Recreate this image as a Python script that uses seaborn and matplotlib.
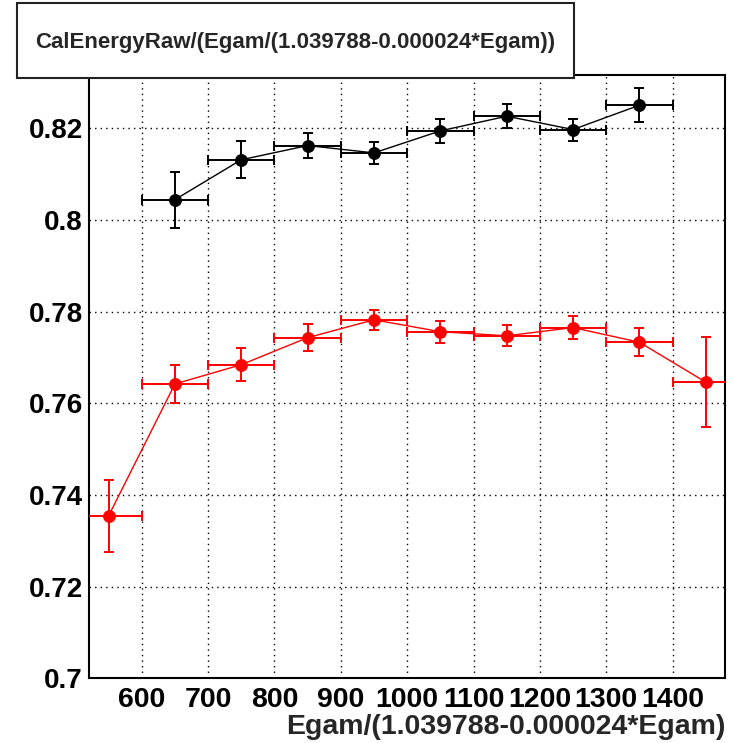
import matplotlib
matplotlib.use("Agg")
import matplotlib.pyplot as plt
from matplotlib.patches import Rectangle
from matplotlib.ticker import MultipleLocator, FixedLocator
import seaborn as sns
import pandas as pd
import numpy as np

# ---- data ----
egam_black = [650, 750, 850, 950, 1050, 1150, 1250, 1350]
ratio_black = [0.8044, 0.8131, 0.8162, 0.8146, 0.8194, 0.8226, 0.8197, 0.8250]
err_black = [0.0061, 0.0040, 0.0027, 0.0024, 0.0026, 0.0026, 0.0024, 0.0037]

egam_red = [550, 650, 750, 850, 950, 1050, 1150, 1250, 1350, 1450]
ratio_red = [0.7354, 0.7642, 0.7684, 0.7743, 0.7782, 0.7756, 0.7747, 0.7765, 0.7733, 0.7646]
err_red = [0.0078, 0.0042, 0.0036, 0.0030, 0.0022, 0.0024, 0.0023, 0.0025, 0.0031, 0.0098]

bin_half_width = 50
y_major = [0.70, 0.72, 0.74, 0.76, 0.78, 0.80, 0.82]
y_labels = ["0.7", "0.72", "0.74", "0.76", "0.78", "0.8", "0.82"]
x_major = [600, 700, 800, 900, 1000, 1100, 1200, 1300, 1400]
x_labels = ["600", "700", "800", "900", "1000", "1100", "1200", "1300", "1400"]
title_text = "CalEnergyRaw/(Egam/(1.039788-0.000024*Egam))"
xlabel_text = "Egam/(1.039788-0.000024*Egam)"

sns.set_style("white")
plt.rcParams["font.family"] = ["Liberation Sans", "DejaVu Sans"]
plt.rcParams["font.weight"] = "bold"

fig = plt.figure(figsize=(7.33, 7.43), dpi=100)
ax = fig.add_axes([89.3 / 733, (743 - 678.3) / 743, (725 - 89.3) / 733, (678.3 - 74.5) / 743])

df_b = pd.DataFrame({"x": egam_black, "y": ratio_black})
df_r = pd.DataFrame({"x": egam_red, "y": ratio_red})

for df, errs, col in [(df_b, err_black, "black"), (df_r, err_red, "#ff0000")]:
    ax.errorbar(df["x"], df["y"], xerr=bin_half_width, yerr=errs, fmt="none",
                ecolor=col, elinewidth=1.4, capsize=3.5, capthick=1.4, zorder=3)
    sns.lineplot(data=df, x="x", y="y", ax=ax, color=col, linewidth=1.0,
                 marker="o", markersize=8.5, markeredgecolor=col, markerfacecolor=col,
                 sort=False, zorder=4)

ax.set_xlim(521, 1479)
ax.set_ylim(0.70, 0.8317)

ax.xaxis.set_major_locator(FixedLocator(x_major))
ax.set_xticklabels(x_labels)
ax.xaxis.set_minor_locator(MultipleLocator(20))
ax.yaxis.set_major_locator(FixedLocator(y_major))
ax.set_yticklabels(y_labels)
ax.yaxis.set_minor_locator(MultipleLocator(0.005))

ax.tick_params(axis="both", which="both", direction="in", colors="black", width=1.2)
ax.tick_params(axis="x", which="major", length=13, pad=6.5, labelsize=20.5)
ax.tick_params(axis="x", which="minor", length=6)
ax.tick_params(axis="y", which="major", length=14.5, pad=4.5, labelsize=20)
ax.tick_params(axis="y", which="minor", length=7.5)
for lab in ax.get_xticklabels() + ax.get_yticklabels():
    lab.set_fontweight("bold")

ax.grid(True, which="major", color="black", linestyle=(0, (1, 3)), linewidth=1.0)
ax.set_axisbelow(True)
for s in ax.spines.values():
    s.set_visible(True)
    s.set_color("black")
    s.set_linewidth(1.5)

ax.set_xlabel("")
ax.set_ylabel("")

fig.text(725 / 733, (743 - 733.5) / 743, xlabel_text, ha="right", va="baseline",
         fontsize=20.5, fontweight="bold")

box = Rectangle((16.7 / 733, (743 - 78.3) / 743), (574 - 16.7) / 733, 75.6 / 743,
                transform=fig.transFigure, facecolor="white", edgecolor="#222222",
                linewidth=1.5, zorder=10)
fig.add_artist(box)
fig.text(295.5 / 733, (743 - 48) / 743, title_text, ha="center", va="baseline",
         fontsize=16, fontweight="bold", zorder=11)

fig.savefig("out.png", dpi=100)
